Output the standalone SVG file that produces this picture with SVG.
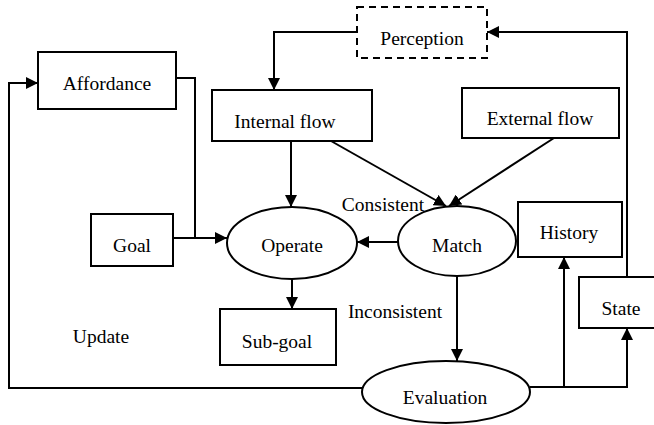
<svg xmlns="http://www.w3.org/2000/svg" width="654" height="425" viewBox="0 0 654 425">
<defs>
<marker id="ah" viewBox="0 0 12 12" refX="12" refY="6" markerWidth="12" markerHeight="12" markerUnits="userSpaceOnUse" orient="auto">
<path d="M0,0 L12,6 L0,12 Z" fill="#000"/>
</marker>
</defs>
<style>
.box{fill:#fff;stroke:#000;stroke-width:2}
.dash{fill:#fff;stroke:#000;stroke-width:2;stroke-dasharray:7,5}
.ln{fill:none;stroke:#000;stroke-width:2}
.ar{fill:none;stroke:#000;stroke-width:2;marker-end:url(#ah)}
.t{font-size:19.5px;fill:#000;text-anchor:middle}
</style>
<rect width="654" height="425" fill="#fff"/>
<g id="connectors">
<polyline class="ar" points="357,32 274,32 274,90"/>
<polyline class="ar" points="627,277 627,32 487,32"/>
<polyline class="ln" points="176,78 195,78 195,238"/>
<line class="ar" x1="173" y1="238" x2="227" y2="238"/>
<line class="ar" x1="291" y1="141" x2="291" y2="207"/>
<line class="ar" x1="331" y1="141" x2="446" y2="206"/>
<line class="ar" x1="554" y1="138" x2="449" y2="206"/>
<line class="ar" x1="398" y1="242" x2="357" y2="242"/>
<line class="ar" x1="292" y1="279" x2="292" y2="309"/>
<line class="ar" x1="457" y1="277" x2="457" y2="361"/>
<polyline class="ar" points="362,388 9,388 9,83 38,83"/>
<polyline class="ar" points="530,387 627,387 627,328"/>
<polyline class="ar" points="564,387 564,257"/>
</g>
<g font-family="Liberation Serif, Times New Roman, DejaVu Serif, serif">
<g id="perception"><rect class="dash" x="357" y="7" width="130" height="51"/><text class="t" x="422" y="45">Perception</text></g>
<g id="affordance"><rect class="box" x="38" y="52" width="138" height="57"/><text class="t" x="107" y="90">Affordance</text></g>
<g id="internal-flow"><rect class="box" x="212" y="90" width="160" height="51"/><text class="t" x="285" y="128">Internal flow</text></g>
<g id="external-flow"><rect class="box" x="462" y="88" width="157" height="50"/><text class="t" x="540" y="125">External flow</text></g>
<g id="goal"><rect class="box" x="91" y="214" width="82" height="52"/><text class="t" x="132" y="252">Goal</text></g>
<g id="operate"><ellipse class="box" cx="292" cy="243" rx="65" ry="36"/><text class="t" x="292" y="252">Operate</text></g>
<g id="match"><ellipse class="box" cx="457" cy="241" rx="59" ry="35"/><text class="t" x="457" y="252">Match</text></g>
<g id="history"><rect class="box" x="518" y="202" width="104" height="55"/><text class="t" x="569" y="239">History</text></g>
<g id="state"><rect class="box" x="579" y="277" width="80" height="51"/><text class="t" x="621" y="315">State</text></g>
<g id="sub-goal"><rect class="box" x="220" y="309" width="116" height="56"/><text class="t" x="277" y="348">Sub-goal</text></g>
<g id="evaluation"><ellipse class="box" cx="446" cy="392" rx="84" ry="31"/><text class="t" x="445" y="404">Evaluation</text></g>
<g id="labels">
<text class="t" x="383" y="211">Consistent</text>
<text class="t" x="395" y="318">Inconsistent</text>
<text class="t" x="101" y="343">Update</text>
</g>
</g>
</svg>
